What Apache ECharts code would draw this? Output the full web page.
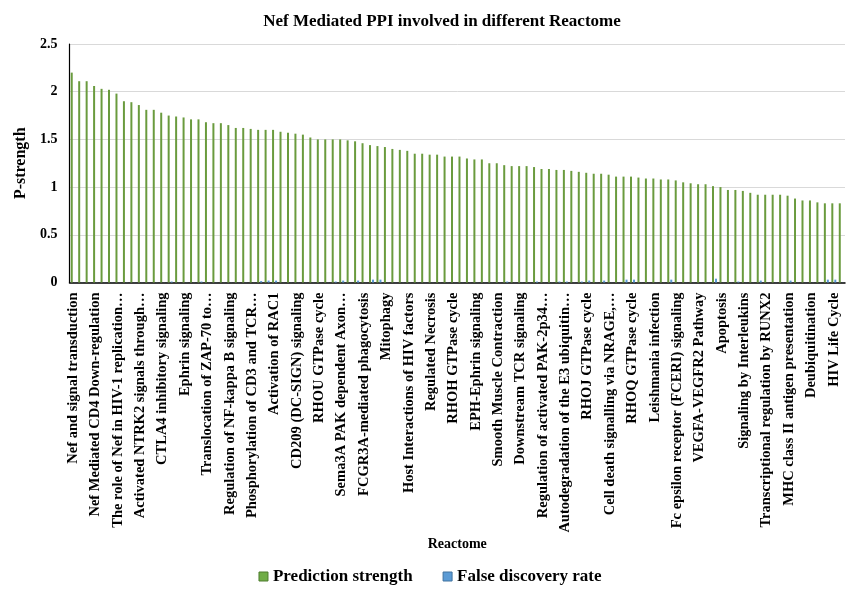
<!DOCTYPE html>
<html>
<head>
<meta charset="utf-8">
<script src="https://cdn.jsdelivr.net/npm/echarts@6/dist/echarts.min.js"></script>
<style>html,body{margin:0;padding:0;background:#fff}#c{width:860px;height:600px}</style>
</head>
<body>
<div id="c"></div>
<script>
// Visible category labels (every third reactome term is labelled in the reference)
const shownLabels = [
  "Nef and signal transduction",
  "Nef Mediated CD4 Down-regulation",
  "The role of Nef in HIV-1 replication\u2026",
  "Activated NTRK2 signals through\u2026",
  "CTLA4 inhibitory signaling",
  "Ephrin signaling",
  "Translocation of ZAP-70 to\u2026",
  "Regulation of NF-kappa B signaling",
  "Phosphorylation of CD3 and TCR\u2026",
  "Activation of RAC1",
  "CD209 (DC-SIGN) signaling",
  "RHOU GTPase cycle",
  "Sema3A PAK dependent Axon\u2026",
  "FCGR3A-mediated phagocytosis",
  "Mitophagy",
  "Host Interactions of HIV factors",
  "Regulated Necrosis",
  "RHOH GTPase cycle",
  "EPH-Ephrin signaling",
  "Smooth Muscle Contraction",
  "Downstream TCR signaling",
  "Regulation of activated PAK-2p34\u2026",
  "Autodegradation of the E3 ubiquitin\u2026",
  "RHOJ GTPase cycle",
  "Cell death signalling via NRAGE,\u2026",
  "RHOQ GTPase cycle",
  "Leishmania infection",
  "Fc epsilon receptor (FCERI) signaling",
  "VEGFA-VEGFR2 Pathway",
  "Apoptosis",
  "Signaling by Interleukins",
  "Transcriptional regulation by RUNX2",
  "MHC class II antigen presentation",
  "Deubiquitination",
  "HIV Life Cycle"
];

const predictionStrength = [
  2.20,2.11,2.11,2.06,2.03,2.02,1.98,1.90,1.89,1.86,
  1.81,1.81,1.78,1.75,1.74,1.73,1.71,1.71,1.68,1.67,
  1.67,1.65,1.62,1.62,1.61,1.60,1.60,1.60,1.58,1.57,
  1.56,1.55,1.52,1.50,1.50,1.50,1.50,1.49,1.48,1.46,
  1.44,1.43,1.42,1.40,1.39,1.38,1.35,1.35,1.34,1.34,
  1.32,1.32,1.32,1.30,1.29,1.29,1.25,1.25,1.23,1.22,
  1.22,1.22,1.21,1.19,1.19,1.18,1.18,1.17,1.16,1.15,
  1.14,1.14,1.13,1.11,1.11,1.11,1.10,1.09,1.09,1.08,
  1.08,1.07,1.05,1.04,1.03,1.03,1.01,1.00,0.97,0.97,
  0.96,0.94,0.92,0.92,0.92,0.92,0.91,0.88,0.86,0.86,
  0.84,0.83,0.83,0.83
];

const falseDiscoveryRate = [
  0.001,0.001,0.001,0.001,0.001,0.001,0.001,0.001,0.001,0.001,
  0.001,0.001,0.001,0.010,0.001,0.001,0.001,0.010,0.001,0.001,
  0.001,0.001,0.001,0.001,0.001,0.015,0.020,0.020,0.001,0.001,
  0.001,0.001,0.001,0.001,0.001,0.010,0.020,0.001,0.020,0.001,
  0.030,0.030,0.001,0.001,0.001,0.001,0.001,0.001,0.001,0.001,
  0.001,0.001,0.001,0.001,0.001,0.001,0.001,0.001,0.010,0.001,
  0.001,0.001,0.010,0.001,0.001,0.010,0.010,0.001,0.010,0.020,
  0.001,0.020,0.001,0.001,0.030,0.030,0.001,0.001,0.001,0.001,
  0.030,0.001,0.001,0.001,0.001,0.001,0.040,0.001,0.001,0.010,
  0.001,0.001,0.020,0.001,0.001,0.001,0.020,0.001,0.001,0.001,
  0.001,0.030,0.030,0.001
];

const labelStep = 3;
const categories = predictionStrength.map((_, i) =>
  i % labelStep === 0 && shownLabels[i / labelStep] !== undefined ? shownLabels[i / labelStep] : ""
);

const FONT = "Liberation Serif";
const chart = echarts.init(document.getElementById('c'));
chart.setOption({
  animation: false,
  backgroundColor: '#fff',
  title: {
    text: 'Nef Mediated PPI involved in different Reactome',
    left: 437, top: 8, textAlign: 'center',
    textStyle: { fontFamily: FONT, fontWeight: 'bold', fontSize: 17, color: '#000' }
  },
  legend: {
    bottom: 10, left: 'center',
    itemWidth: 9, itemHeight: 9, itemGap: 30, icon: 'rect',
    textStyle: { fontFamily: FONT, fontWeight: 'bold', fontSize: 17, color: '#000' },
    data: [
      { name: 'Prediction strength', itemStyle: { color: '#70AD47', borderColor: '#4E7D2E', borderWidth: 1 } },
      { name: 'False discovery rate', itemStyle: { color: '#5B9BD5', borderColor: '#41729F', borderWidth: 1 } }
    ]
  },
  grid: { left: 69.5, right: 15, top: 44, bottom: 317.5, containLabel: false },
  xAxis: {
    type: 'category',
    data: categories,
    name: 'Reactome',
    nameLocation: 'middle',
    nameGap: 255,
    nameTextStyle: { fontFamily: FONT, fontWeight: 'bold', fontSize: 14, color: '#000' },
    axisLine: { lineStyle: { color: '#000', width: 1.5 } },
    axisTick: { show: false },
    axisLabel: {
      interval: labelStep - 1, rotate: 90, margin: 10,
      fontFamily: FONT, fontWeight: 'bold', fontSize: 14.5, color: '#000'
    }
  },
  yAxis: {
    type: 'value', min: 0, max: 2.5, interval: 0.5,
    name: 'P-strength', nameLocation: 'middle', nameGap: 34,
    nameTextStyle: { fontFamily: FONT, fontWeight: 'bold', fontSize: 16, color: '#000' },
    axisLine: { show: true, lineStyle: { color: '#000', width: 1.2 } },
    axisTick: { show: false },
    axisLabel: { fontFamily: FONT, fontWeight: 'bold', fontSize: 14, color: '#000', margin: 12 },
    splitLine: { lineStyle: { color: '#d9d9d9', width: 1 } }
  },
  series: [
    {
      name: 'Prediction strength', type: 'bar', data: predictionStrength,
      barWidth: 2, barGap: '50%',
      itemStyle: { color: '#6A9B3E' }
    },
    {
      name: 'False discovery rate', type: 'bar', data: falseDiscoveryRate,
      barWidth: 2,
      itemStyle: { color: '#5B9BD5' }
    }
  ]
});
</script>
</body>
</html>
